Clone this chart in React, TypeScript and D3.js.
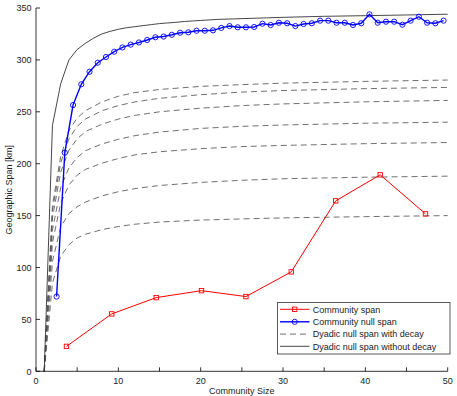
import React from "react";
import * as d3 from "d3";

// community span (red squares)
const spanSize = [3.7, 9.2, 14.6, 20.1, 25.5, 31.0, 36.4, 41.8, 47.3];
const spanValue = [24, 55.3, 71, 77.7, 72, 95.8, 164.2, 189.3, 151.7];

// community null span (blue circles)
const nullSize = [
  2.5, 3.5, 4.5, 5.5, 6.5, 7.5, 8.5, 9.5, 10.5, 11.5, 12.5, 13.5, 14.5, 15.5, 16.5, 17.5,
  18.5, 19.5, 20.5, 21.5, 22.5, 23.5, 24.5, 25.5, 26.5, 27.5, 28.5, 29.5, 30.5, 31.5, 32.5,
  33.5, 34.5, 35.5, 36.5, 37.5, 38.5, 39.5, 40.5, 41.5, 42.5, 43.5, 44.5, 45.5, 46.5, 47.5,
  48.5, 49.5,
];
const nullValue = [
  72, 210.6, 256.5, 276.5, 288.6, 297.3, 302.8, 307.9, 312, 314.7, 316.8, 319.2, 321.8, 322.5,
  324.2, 326.2, 326.6, 328.1, 328.1, 328.5, 330.8, 332.6, 331.4, 331.4, 331.7, 334.9, 333.6,
  335.8, 335.3, 332.6, 334.6, 335.3, 337.8, 337.8, 335.8, 335.8, 333.6, 335.3, 343.9, 335.8,
  336.8, 336.8, 333.9, 337.8, 341.6, 335.8, 335.3, 337.8,
];

// dyadic null span with decay (dashed)
const decaySize = [1, 2, 3, 4, 5, 6, 8, 10, 12, 15, 20, 25, 30, 40, 50];
const decay1 = [0, 160, 207, 232, 244, 251, 259.5, 265, 268.5, 271.5, 274.5, 276.2, 277.6, 279.3, 280.6];
const decay2 = [0, 155, 201, 224, 236, 243, 251, 256, 259.5, 263, 266.5, 269, 270.5, 272.3, 273.5];
const decay3 = [0, 148, 192, 213, 224, 231, 238, 243, 246.5, 250, 253.5, 256, 257.6, 259.6, 261];
const decay4 = [0, 136, 177, 196, 206, 212.5, 219, 223.5, 227, 230.5, 234, 236, 237.3, 239, 240];
const decay5 = [0, 124, 162, 179.5, 189, 194.5, 200.5, 205, 208.5, 211.5, 214.5, 216.5, 217.6, 219.3, 220.4];
const decay6 = [0, 106, 139, 152, 158.5, 163, 169, 173, 176, 179, 182, 184, 185.5, 187, 188];
const decay7 = [0, 85, 111, 122, 128.5, 132, 136.5, 139.5, 141.7, 143.8, 145.7, 146.8, 147.8, 149, 150];

// dyadic null span without decay (solid)
const noDecaySize = [1, 2, 3, 4, 5, 6, 7, 8, 9, 10, 11, 12, 13, 14, 15, 16, 17, 18, 19, 20, 22, 24, 26, 28, 30, 35, 40, 45, 50];
const noDecayValue = [0, 237, 277, 300, 310, 316, 321, 325, 327.5, 329.5, 331, 332, 333, 334, 335, 335.6, 336.2, 337, 337.5, 338, 339, 339.5, 340, 340.5, 341, 342, 342.6, 343.3, 344];

const xTicks = [0, 5, 10, 15, 20, 25, 30, 35, 40, 45, 50];
const xTickLabels = ["0", "", "10", "", "20", "", "30", "", "40", "", "50"];
const yTicks = [0, 50, 100, 150, 200, 250, 300, 350];

const legendLabels = [
  "Community span",
  "Community null span",
  "Dyadic null span with decay",
  "Dyadic null span without decay",
];

const W = 457;
const H = 396;
const left = 36, right = 447.7, top = 8, bottom = 371.3;
const font = "'Liberation Sans', Arial, Helvetica, sans-serif";

export default function App() {
  const x = d3.scaleLinear().domain([0, 50]).range([left, right]);
  const y = d3.scaleLinear().domain([0, 350]).range([bottom, top]);

  const line = (xs: number[], ys: number[]) =>
    d3.line<number>().x((_, i) => x(xs[i])).y((d) => y(d))(ys) || "";

  const decays = [decay1, decay2, decay3, decay4, decay5, decay6, decay7];

  const red = "#ff0000";
  const blue = "#0000ff";
  const dashCol = "#555";

  // legend layout
  const lgX = 277.5, lgY = 302.5, lgW = 172.5, lgH = 51.5;
  const rowY = [309.3, 321.8, 334.1, 346.3];

  return (
    <svg width={W} height={H} style={{ position: "absolute", left: 0, top: 0, background: "#fff" }} fontFamily={font}>
      <rect x={0} y={0} width={W} height={H} fill="#fff" />

      {/* dashed curves */}
      {decays.map((vals, k) => (
        <path key={k} d={line(decaySize, vals)} fill="none" stroke={dashCol} strokeWidth={0.85} strokeDasharray="6,4" />
      ))}

      {/* solid curve */}
      <path d={line(noDecaySize, noDecayValue)} fill="none" stroke="#333" strokeWidth={0.9} />

      {/* community null span */}
      <path d={line(nullSize, nullValue)} fill="none" stroke={blue} strokeWidth={1.4} />
      {nullValue.map((v, i) => (
        <circle key={i} cx={x(nullSize[i])} cy={y(v)} r={2.6} fill="none" stroke={blue} strokeWidth={0.9} />
      ))}

      {/* community span */}
      <path d={line(spanSize, spanValue)} fill="none" stroke={red} strokeWidth={1} />
      {spanValue.map((v, i) => (
        <rect key={i} x={x(spanSize[i]) - 2.2} y={y(v) - 2.2} width={4.4} height={4.4} fill="none" stroke={red} strokeWidth={0.9} />
      ))}

      {/* axes */}
      <line x1={left} x2={right} y1={bottom} y2={bottom} stroke="#000" strokeWidth={0.8} />
      <line x1={left} x2={left} y1={bottom} y2={top} stroke="#000" strokeWidth={0.8} />
      {xTicks.map((t, i) => (
        <g key={t}>
          <line x1={x(t)} x2={x(t)} y1={bottom} y2={bottom - 4} stroke="#000" strokeWidth={0.8} />
          {xTickLabels[i] && (
            <text x={x(t)} y={bottom + 12.5} fontSize={9} textAnchor="middle" fill="#222">
              {xTickLabels[i]}
            </text>
          )}
        </g>
      ))}
      {yTicks.map((t) => (
        <g key={t}>
          <line x1={left} x2={left + 4} y1={y(t)} y2={y(t)} stroke="#000" strokeWidth={0.8} />
          <text x={left - 4.5} y={y(t) + 3.2} fontSize={9} textAnchor="end" fill="#222">
            {t}
          </text>
        </g>
      ))}
      <text x={(left + right) / 2} y={393.5} fontSize={9} textAnchor="middle" fill="#222">
        Community Size
      </text>
      <text transform={`translate(11.5,${(top + bottom) / 2}) rotate(-90)`} fontSize={9} textAnchor="middle" fill="#222">
        Geographic Span [km]
      </text>

      {/* legend */}
      <rect x={lgX} y={lgY} width={lgW} height={lgH} fill="#fff" stroke="#333" strokeWidth={0.8} />
      {legendLabels.map((lab, i) => {
        const yy = rowY[i];
        return (
          <g key={lab}>
            {i === 0 && (
              <>
                <line x1={280} x2={309.5} y1={yy} y2={yy} stroke={red} strokeWidth={1} />
                <rect x={294.7 - 2.2} y={yy - 2.2} width={4.4} height={4.4} fill="none" stroke={red} strokeWidth={0.9} />
              </>
            )}
            {i === 1 && (
              <>
                <line x1={280} x2={309.5} y1={yy} y2={yy} stroke={blue} strokeWidth={1.4} />
                <circle cx={294.7} cy={yy} r={2.6} fill="none" stroke={blue} strokeWidth={0.9} />
              </>
            )}
            {i === 2 && <line x1={280} x2={309.5} y1={yy} y2={yy} stroke={dashCol} strokeWidth={0.85} strokeDasharray="6,4" />}
            {i === 3 && <line x1={280} x2={309.5} y1={yy} y2={yy} stroke="#333" strokeWidth={0.9} />}
            <text x={312.7} y={yy + 3.2} fontSize={9} fill="#222">
              {lab}
            </text>
          </g>
        );
      })}
    </svg>
  );
}
